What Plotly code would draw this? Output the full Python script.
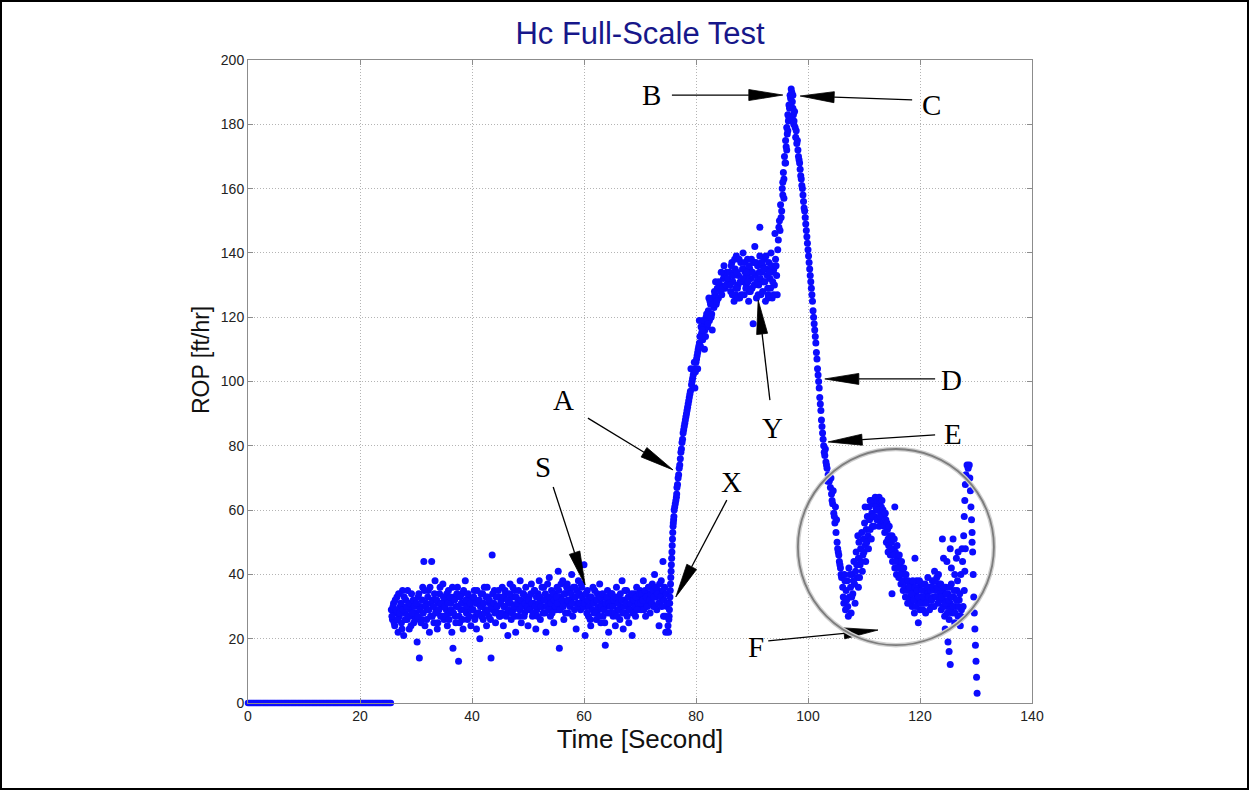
import numpy as np
import plotly.graph_objects as go

# ---------------------------------------------------------------- data
# Idle period: bit off bottom, ROP = 0
idle_t = [0.0, 25.6]
idle_rop = [0.0, 0.0]
IDLE_DT = 0.25

# Steady drilling, two interleaved sample channels (period BAND_DT)
BAND_T0 = 25.6
BAND_DT = 0.2
band_rop = [
    29, 26, 31, 24, 28, 33, 22, 27, 30, 25,
    35, 21, 28, 32, 26, 30, 23, 29, 34, 27,
    25, 31,
    28, 19, 33, 14, 30, 26, 36, 44, 24, 31,
    29, 35, 22, 27, 44, 32, 25, 38, 29, 23,
    31, 34, 27, 30, 37,
    26, 32, 29, 24, 35, 28, 31, 22, 17, 33,
    27, 30, 36, 13, 25, 29, 34, 23, 31, 38,
    28, 26, 33, 30, 24,
    32, 29, 35, 27, 23, 31, 28, 20, 34, 30,
    26, 36, 29, 24, 33, 27, 31, 14, 46, 29,
    35, 25, 30, 28, 33,
    27, 32, 36, 24, 30, 34, 28, 21, 31, 37,
    26, 33, 29, 35, 22, 30, 32, 27, 38, 25,
    31, 34, 28, 36, 29,
    24, 33, 30, 37, 27, 31, 35, 23, 29, 34,
    38, 26, 32, 30, 36, 28, 22, 33, 31, 39,
    27, 35, 30, 25, 34,
    29, 36, 41, 17, 33, 30, 38, 26, 34, 31,
    37, 28, 35, 32, 40, 27, 33, 36, 23, 31,
    38, 34, 29, 36, 32,
    43, 21, 30, 35, 27, 33, 24, 31, 36, 28,
    32, 26, 34, 29, 37, 25, 31, 27, 33, 18,
    30, 35, 22, 32, 28,
    34, 27, 31, 24, 36, 29, 33, 26, 30, 38,
    23, 32, 28, 35, 30, 25, 33, 29, 21, 31,
    34, 27, 36, 30, 32,
    35, 29, 33, 38, 30, 27, 34, 31, 36, 28,
    32, 37, 30, 40, 33, 29, 35, 24, 31, 38,
    34, 27, 36, 22, 30,
]
BAND_B_T0 = 25.7
band_rop_b = [
    27, 30, 25, 32, 29, 26, 34, 28, 31, 23,
    29, 33, 26, 30, 35, 27, 31, 24, 28, 32,
    30, 26,
    31, 27, 34, 29, 25, 32, 28, 35, 30, 26,
    33, 29, 36, 31, 27, 30, 34, 28, 32, 25,
    29, 36, 31, 27, 33,
    30, 27, 34, 31, 26, 33, 29, 36, 28, 32,
    25, 34, 30, 27, 33, 31, 26, 35, 29, 32,
    30, 34, 27, 31, 29,
    29, 33, 26, 31, 35, 28, 32, 30, 27, 34,
    31, 28, 33, 36, 29, 32, 26, 30, 34, 31,
    28, 33, 30, 35, 27,
    31, 28, 33, 30, 35, 27, 32, 29, 34, 31,
    28, 36, 30, 27, 33, 31, 35, 29, 32, 30,
    34, 27, 31, 33, 30,
    32, 29, 34, 31, 28, 35, 30, 33, 27, 31,
    33, 30, 36, 28, 32, 34, 30, 37, 29, 33,
    31, 28, 34, 32, 30,
    33, 31, 35, 29, 37, 32, 30, 34, 28, 36,
    32, 35, 30, 34, 31, 36, 29, 33, 35, 30,
    34, 31, 37, 33, 30,
    31, 34, 28, 32, 30, 26, 33, 29, 31, 35,
    28, 32, 30, 27, 33, 30, 34, 29, 25, 31,
    33, 28, 31, 30, 34,
    30, 32, 28, 33, 27, 31, 29, 34, 32, 28,
    30, 35, 31, 27, 33, 29, 31, 34, 28, 32,
    30, 33, 29, 31, 34,
    31, 34, 32, 29, 35, 33, 30, 36, 32, 34,
    31, 35, 33, 30, 36, 34, 31, 37, 33, 30,
    35, 32, 27, 34, 31,
]

# Ramp-up after the hydraulics change
ramp_t = [75.0, 75.1, 75.2, 75.3, 75.4, 75.5, 75.6, 75.7, 75.8, 75.9,
          76.0, 76.1, 76.3, 76.5, 76.6, 76.8, 77.0, 77.2, 77.4, 77.6,
          77.8, 78.0, 78.2, 78.4, 78.6, 78.8, 79.0, 79.2, 79.4, 79.6,
          79.8, 80.0, 80.2, 80.4, 80.6, 80.8, 81.0, 81.2, 81.4, 81.6,
          81.8, 82.0, 82.2, 82.4, 82.6, 82.8, 83.0, 83.2, 83.4, 83.6,
          83.8, 84.0, 84.3, 84.6, 84.9, 85.2, 85.5, 85.8,
          79.8, 80.3, 80.9, 81.5, 82.3, 82.9, 83.5, 79.1, 80.6, 74.1,
          75.15, 75.25, 75.35, 75.45, 75.55, 75.65, 75.75, 75.85, 75.95, 76.05,
          76.2, 76.4, 76.55, 76.7, 76.9, 77.1, 77.3, 77.5, 77.7, 77.9,
          78.1, 78.3, 78.5, 78.7, 78.9, 79.3, 79.5, 79.7, 79.9, 80.1,
          80.3, 80.5, 80.7, 81.1, 81.3, 81.7, 81.9, 82.1, 82.5, 82.7,
          83.1, 83.3, 83.7, 84.1, 84.45, 84.75, 85.05, 85.35, 85.65]
ramp_rop = [24, 22, 27, 31, 35, 39, 43, 47, 51, 55,
            57, 60, 62, 64, 67, 70, 73, 76, 79, 82,
            85, 87, 89, 91, 93, 95, 97, 99, 101, 103,
            104, 106, 108, 110, 112, 111, 115, 113, 118, 116,
            120, 117, 122, 119, 124, 121, 126, 123, 127, 124,
            129, 126, 130, 127, 132, 129, 134, 131,
            98, 104, 117, 110, 126, 116, 131, 104, 119, 44,
            26, 29, 33, 37, 41, 45, 49, 53, 56, 58,
            61, 63, 65, 68, 71, 74, 78, 81, 84, 86,
            88, 90, 92, 94, 96, 100, 102, 106, 103, 107,
            109, 111, 114, 116, 119, 114, 121, 118, 125, 120,
            124, 128, 125, 131, 128, 129, 133, 130, 132]

# Plateau
plat_t = [86.0, 86.2, 86.4, 86.6, 86.8, 87.0, 87.2, 87.4, 87.6, 87.8,
          88.0, 88.2, 88.4, 88.6, 88.8, 89.0, 89.2, 89.4, 89.6, 89.8,
          90.0, 90.2, 90.3, 90.5, 90.6, 90.8, 91.0, 91.2, 91.4, 91.6,
          91.8, 92.0, 92.2, 92.4, 92.6, 92.8, 93.0, 93.2, 93.4, 93.6,
          93.8, 94.0, 94.2, 94.1, 94.4, 94.5, 94.6,
          86.5, 87.5, 88.5, 89.5, 90.9, 91.9, 92.9, 93.9, 87.1, 89.1,
          86.1, 86.3, 86.5, 86.7, 86.9, 87.1, 87.3, 87.5, 87.7, 87.9,
          88.1, 88.3, 88.5, 88.7, 88.9, 89.1, 89.3, 89.5, 89.7, 89.9,
          90.1, 90.4, 90.7, 90.9, 91.1, 91.3, 91.5, 91.7, 91.9, 92.1,
          92.3, 92.5, 92.7, 92.9, 93.1, 93.3, 93.5, 93.7, 93.9, 94.3,
          91.4, 84.5, 85.0]
plat_rop = [134, 128, 137, 131, 125, 135, 139, 129, 133, 126,
            137, 131, 140, 127, 134, 130, 138, 125, 135, 132,
            129, 118, 137, 142, 133, 126, 136, 130, 139, 127,
            134, 131, 138, 125, 135, 129, 137, 132, 140, 126,
            134, 130, 138, 146, 133, 127, 141,
            133, 130, 135, 128, 131, 136, 126, 135, 127, 133,
            130, 136, 127, 133, 138, 129, 134, 126, 138, 131,
            127, 135, 132, 137, 129, 134, 131, 136, 128, 138,
            134, 130, 137, 131, 127, 134, 132, 137, 128, 135,
            131, 139, 133, 127, 134, 129, 136, 131, 127, 136,
            148, 134, 136]

# Rise to the peak and sharp fall
peak_t = [94.7, 94.9, 95.0, 95.1, 95.3, 95.4, 95.5, 95.6, 95.7, 95.8,
          95.9, 96.0, 96.1, 96.2, 96.3, 96.4, 96.5, 96.6, 96.7, 96.8,
          96.9, 97.0, 97.1,
          97.2, 97.3, 97.4, 97.5, 97.6, 97.7, 97.8, 97.9, 98.0, 98.2,
          98.4, 98.6, 98.8, 99.0, 99.2, 99.4, 99.6, 99.8, 100.0, 100.2,
          100.4, 100.6, 100.8, 101.0, 101.2, 101.4, 101.6, 101.8, 102.0, 102.2,
          102.4, 102.6, 102.8, 103.0, 103.2, 103.4, 103.6, 103.8, 104.0, 104.2,
          104.4, 104.6, 104.8, 105.0, 105.2, 105.4, 105.6, 105.8, 106.0,
          103.1, 103.5, 104.1, 104.5, 105.1, 104.9,
          94.8, 95.2, 95.5, 95.7, 96.0, 96.2, 96.4, 96.6, 96.8, 97.3,
          97.45, 98.1, 98.3, 98.5, 98.7, 98.9, 99.1, 99.3, 99.5, 99.7,
          99.9, 100.1, 100.3, 100.5, 100.7, 100.9, 101.1, 101.3, 101.5, 101.7,
          101.9, 102.1, 102.3, 102.5, 102.7, 102.9, 103.3, 103.7, 104.3, 104.7,
          105.3, 105.5, 105.7, 105.9]
peak_rop = [144, 150, 147, 155, 153, 160, 158, 165, 163, 170,
            168, 175, 173, 179, 177, 183, 181, 186, 185, 189,
            188, 191, 190,
            187, 185, 183, 181, 184, 179, 176, 178, 174, 172,
            169, 166, 163, 160, 156, 153, 149, 145, 141, 137,
            133, 129, 125, 120, 116, 112, 107, 102, 98, 93,
            88, 84, 80, 77, 75, 73, 71, 69, 67, 65,
            62, 59, 56, 53, 50, 47, 44, 42, 39,
            79, 69, 70, 66, 57, 61,
            148, 151, 162, 157, 168, 172, 178, 182, 186, 189,
            180, 175, 170, 168, 164, 161, 158, 154, 151, 147,
            143, 139, 135, 131, 127, 122, 118, 114, 109, 104,
            100, 95, 91, 86, 82, 78, 74, 70, 63, 58,
            48, 46, 43, 40]

# Second hump
hump_t = [106.2, 106.4, 106.5, 106.7, 106.8, 107.0, 107.1, 107.3, 107.4, 107.6,
          107.7, 107.9, 108.0, 108.2, 108.3, 108.5, 108.6, 108.8, 109.0, 109.1,
          109.3, 109.4, 109.6, 109.8, 109.9, 110.1, 110.2, 110.4, 110.6, 110.7,
          110.9, 111.0, 111.2, 111.4, 111.5, 111.7, 111.9, 112.0, 112.2, 112.4,
          112.6, 112.8, 113.0, 113.1, 113.3, 113.5, 113.7, 113.9, 114.0, 114.2,
          114.4, 114.6, 114.7, 114.9, 115.1, 115.3, 115.5, 115.6, 115.8, 116.0,
          116.2, 116.4, 116.6, 116.8, 117.0, 117.2, 117.4, 117.6, 117.8, 118.0,
          107.5, 109.0, 115.0, 119.1, 115.5, 110.2, 111.1, 108.9, 112.7, 114.3,
          106.3, 106.6, 106.9, 107.2, 107.8, 108.1, 108.4, 108.7, 109.2, 109.5,
          109.7, 110.0, 110.3, 110.5, 110.8, 111.1, 111.3, 111.6, 111.8, 112.1,
          112.3, 112.5, 112.7, 112.9, 113.2, 113.4, 113.6, 113.8, 114.1, 114.3,
          114.5, 114.8, 115.0, 115.2, 115.4, 115.7, 115.9, 116.1, 116.3, 116.5,
          116.7, 116.9, 117.1, 117.3, 117.5, 117.7, 117.9]
hump_rop = [36, 31, 40, 29, 35, 38, 30, 42, 33, 36,
            28, 40, 34, 44, 37, 41, 47, 39, 45, 50,
            43, 48, 53, 46, 51, 56, 49, 54, 58, 52,
            61, 57, 63, 59, 55, 62, 58, 64, 60, 63,
            57, 62, 59, 61, 56, 58, 53, 57, 50, 54,
            49, 52, 46, 50, 44, 48, 42, 47, 40, 45,
            39, 43, 37, 41, 35, 40, 33, 38, 31, 36,
            40, 36, 34, 45, 61, 61, 63, 52, 55, 47,
            33, 38, 32, 27, 33, 38, 31, 43, 39, 44,
            41, 47, 44, 50, 48, 54, 51, 58, 55, 61,
            57, 60, 64, 58, 63, 60, 55, 59, 56, 51,
            55, 48, 52, 46, 51, 44, 49, 42, 46, 40,
            44, 38, 42, 36, 40, 35, 38]

# Low, noisy tail
tail_t = [118.2, 118.4, 118.6, 118.8, 119.0, 119.2, 119.4, 119.6, 119.8, 120.0,
          120.2, 120.4, 120.6, 120.8, 121.0, 121.2, 121.4, 121.6, 121.8, 122.0,
          122.2, 122.4, 122.6, 122.8, 123.0, 123.2, 123.4, 123.6, 123.8, 124.0,
          124.2, 124.4, 124.6, 124.8, 125.0, 125.2, 125.4, 125.6, 125.8, 126.0,
          126.2, 126.4, 126.6, 126.8, 127.0, 127.2, 127.4,
          119.7, 124.0, 125.9, 125.4, 124.8, 126.5, 124.5, 125.0, 125.4, 125.2,
          127.5, 127.3,
          118.1, 118.3, 118.5, 118.7, 118.9, 119.1, 119.3, 119.5, 119.7, 119.9,
          120.1, 120.3, 120.5, 120.7, 120.9, 121.1, 121.3, 121.5, 121.7, 121.9,
          122.1, 122.3, 122.5, 122.7, 122.9, 123.1, 123.3, 123.5, 123.7, 123.9,
          124.1, 124.3, 124.5, 124.7, 124.9, 125.1, 125.3, 125.5, 125.7, 125.9,
          126.1, 126.3, 126.5, 126.7, 126.9, 127.1, 127.3, 124.2, 125.6, 126.2,
          126.8]
tail_rop = [33, 37, 30, 35, 28, 34, 38, 31, 36, 29,
            33, 37, 31, 35, 28, 34, 39, 32, 36, 30,
            38, 33, 41, 35, 39, 31, 37, 34, 29, 35,
            32, 27, 36, 30, 34, 26, 31, 37, 28, 33,
            25, 30, 35, 27, 32, 24, 29,
            25, 51, 51, 48, 44, 45, 23, 19, 12, 16,
            48, 40,
            36, 31, 34, 38, 32, 36, 30, 35, 33, 38,
            31, 35, 29, 33, 37, 31, 36, 33, 29, 35,
            32, 36, 30, 38, 33, 36, 40, 32, 37, 33,
            30, 36, 31, 34, 28, 32, 36, 29, 33, 30,
            35, 28, 32, 38, 30, 34, 27, 45, 42, 40,
            47]

# Final spike
spike_t = [127.6, 127.8, 127.9, 128.0, 128.1, 128.2, 128.4, 128.6, 128.8, 128.9,
           129.0, 129.1, 129.2, 129.3, 129.4, 129.5, 129.6, 129.7, 129.8, 129.9,
           130.0, 130.1, 130.2, 127.9, 128.0, 127.7, 128.1, 129.3]
spike_rop = [44, 52, 58, 63, 68, 71, 74, 73, 74, 70,
             66, 61, 57, 53, 47, 40, 33, 28, 23, 18,
             13, 8, 3, 35, 41, 30, 48, 50]

# Event labels
labels = ["A", "S", "X", "Y", "B", "C", "D", "E", "F"]

for a, b in [(ramp_t, ramp_rop), (plat_t, plat_rop), (peak_t, peak_rop),
             (hump_t, hump_rop), (tail_t, tail_rop), (spike_t, spike_rop)]:
    assert len(a) == len(b), (len(a), len(b))

# ---------------------------------------------------------------- geometry
X_RANGE = (0, 140)
Y_RANGE = (0, 200)
W, H = 1249, 790
M_L, M_R, M_T, M_B = 248, 217, 60, 87
PLOT_W = W - M_L - M_R
PLOT_H = H - M_T - M_B
SX = PLOT_W / (X_RANGE[1] - X_RANGE[0])   # px per second
SY = PLOT_H / (Y_RANGE[1] - Y_RANGE[0])   # px per ft/hr

BLUE = "#0c0cff"
MARKER_SIZE = 7

idle_times = np.arange(idle_t[0], idle_t[1] + 1e-9, IDLE_DT)
idle_vals = np.interp(idle_times, idle_t, idle_rop)
band_t = BAND_T0 + BAND_DT * np.arange(len(band_rop))
band_t_b = BAND_B_T0 + BAND_DT * np.arange(len(band_rop_b))

all_t = np.concatenate([band_t, band_t_b, ramp_t, plat_t, peak_t, hump_t, tail_t, spike_t])
all_rop = np.concatenate([band_rop, band_rop_b, ramp_rop, plat_rop, peak_rop,
                          hump_rop, tail_rop, spike_rop])

fig = go.Figure()
fig.add_trace(go.Scatter(
    x=idle_times, y=idle_vals, mode="markers",
    marker=dict(color=BLUE, size=6.5, line=dict(width=0)),
    cliponaxis=False, showlegend=False, hoverinfo="skip"))
fig.add_trace(go.Scatter(
    x=all_t, y=all_rop, mode="markers",
    marker=dict(color=BLUE, size=MARKER_SIZE, line=dict(width=0)),
    cliponaxis=False, showlegend=False))

# ---------------------------------------------------------------- annotations
# label centre, arrow tail, arrow tip (data coordinates)
label_pos = {
    "A": (56.25, 94.2), "S": (52.7, 73.4), "X": (86.4, 68.7),
    "Y": (93.6, 85.5), "B": (72.1, 189.1), "C": (122.1, 186.0),
    "D": (125.7, 100.5), "E": (125.9, 83.7), "F": (90.7, 17.4),
}
arrows = {
    "A": ((60.7, 88.6), (75.9, 72.5)),
    "S": ((54.5, 67.2), (60.2, 36.7)),
    "X": ((85.5, 63.1), (76.4, 33.0)),
    "Y": ((93.2, 94.2), (91.1, 125.3)),
    "B": ((75.7, 189.1), (95.5, 189.1)),
    "C": ((118.6, 187.6), (98.6, 188.8)),
    "D": ((122.7, 100.8), (103.0, 100.8)),
    "E": ((122.7, 83.4), (103.6, 81.2)),
    "F": ((92.9, 19.3), (112.5, 22.7)),
}

HEAD_LEN, HEAD_HALF = 34.0, 5.5
shapes = []
for lab in labels:
    (tx, ty), (hx, hy) = arrows[lab]
    # work in pixel space so the head keeps its shape
    dx, dy = (hx - tx) * SX, (hy - ty) * SY
    n = np.hypot(dx, dy)
    ux, uy = dx / n, dy / n
    bx, by = -ux * HEAD_LEN, -uy * HEAD_LEN
    px, py = -uy * HEAD_HALF, ux * HEAD_HALF
    p1 = (hx + (bx + px) / SX, hy + (by + py) / SY)
    p2 = (hx + (bx - px) / SX, hy + (by - py) / SY)
    base = (hx + bx / SX, hy + by / SY)
    shapes.append(dict(type="line", xref="x", yref="y",
                       x0=tx, y0=ty, x1=base[0], y1=base[1],
                       line=dict(color="black", width=1.3)))
    shapes.append(dict(type="path", xref="x", yref="y",
                       path=f"M{hx},{hy} L{p1[0]},{p1[1]} L{p2[0]},{p2[1]} Z",
                       fillcolor="black", line=dict(color="black", width=0.8)))

# highlight ring around the second hump
shapes.append(dict(type="circle", xref="x", yref="y",
                   x0=98.2, x1=133.2, y0=18.0, y1=79.0,
                   line=dict(color="#cfcfcf", width=4.5), layer="above"))
shapes.append(dict(type="circle", xref="x", yref="y",
                   x0=98.2, x1=133.2, y0=18.0, y1=79.0,
                   line=dict(color="#7d7d7d", width=1.8), layer="above"))

# black frame around the whole figure
shapes.append(dict(type="rect", xref="paper", yref="paper",
                   x0=-(M_L - 1) / PLOT_W, x1=1 + (M_R - 1) / PLOT_W,
                   y0=-(M_B - 1) / PLOT_H, y1=1 + (M_T - 1) / PLOT_H,
                   line=dict(color="black", width=2)))

SANS = "Liberation Sans, Arial, sans-serif"
annotations = [
    dict(x=label_pos[lab][0], y=label_pos[lab][1], xref="x", yref="y",
         text=lab, showarrow=False,
         font=dict(family="Liberation Serif, Times New Roman, serif", size=29, color="black"))
    for lab in labels
]
# y-axis title
annotations.append(dict(
    x=(201 - M_L) / PLOT_W, y=1 - (360 - M_T) / PLOT_H, xref="paper", yref="paper",
    text="ROP [ft/hr]", textangle=-90, showarrow=False,
    xanchor="center", yanchor="middle",
    font=dict(family=SANS, size=23, color="#111111")))

axis_common = dict(
    showline=True, linecolor="#8c8c8c", linewidth=1, mirror="ticks",
    ticks="inside", ticklen=5, tickcolor="#8c8c8c",
    showgrid=True, gridcolor="#b4b4b4", griddash="1px,2px", gridwidth=1,
    zeroline=False,
    tickfont=dict(family=SANS, size=14, color="#222222"),
)

fig.update_layout(
    width=W, height=H,
    margin=dict(l=M_L, r=M_R, t=M_T, b=M_B),
    paper_bgcolor="white", plot_bgcolor="white",
    title=dict(text="Hc Full-Scale Test", x=(M_L + PLOT_W / 2) / W, xanchor="center",
               y=1 - 33 / H, yanchor="middle",
               font=dict(family=SANS, size=31, color="#17178a")),
    xaxis=dict(range=list(X_RANGE), tickvals=[0, 20, 40, 60, 80, 100, 120, 140],
               title=dict(text="Time [Second]", standoff=6,
                          font=dict(family=SANS, size=26, color="#111111")),
               **axis_common),
    yaxis=dict(range=list(Y_RANGE), tickvals=list(range(0, 201, 20)), **axis_common),
    shapes=shapes,
    annotations=annotations,
)

fig.write_html("out.html")
